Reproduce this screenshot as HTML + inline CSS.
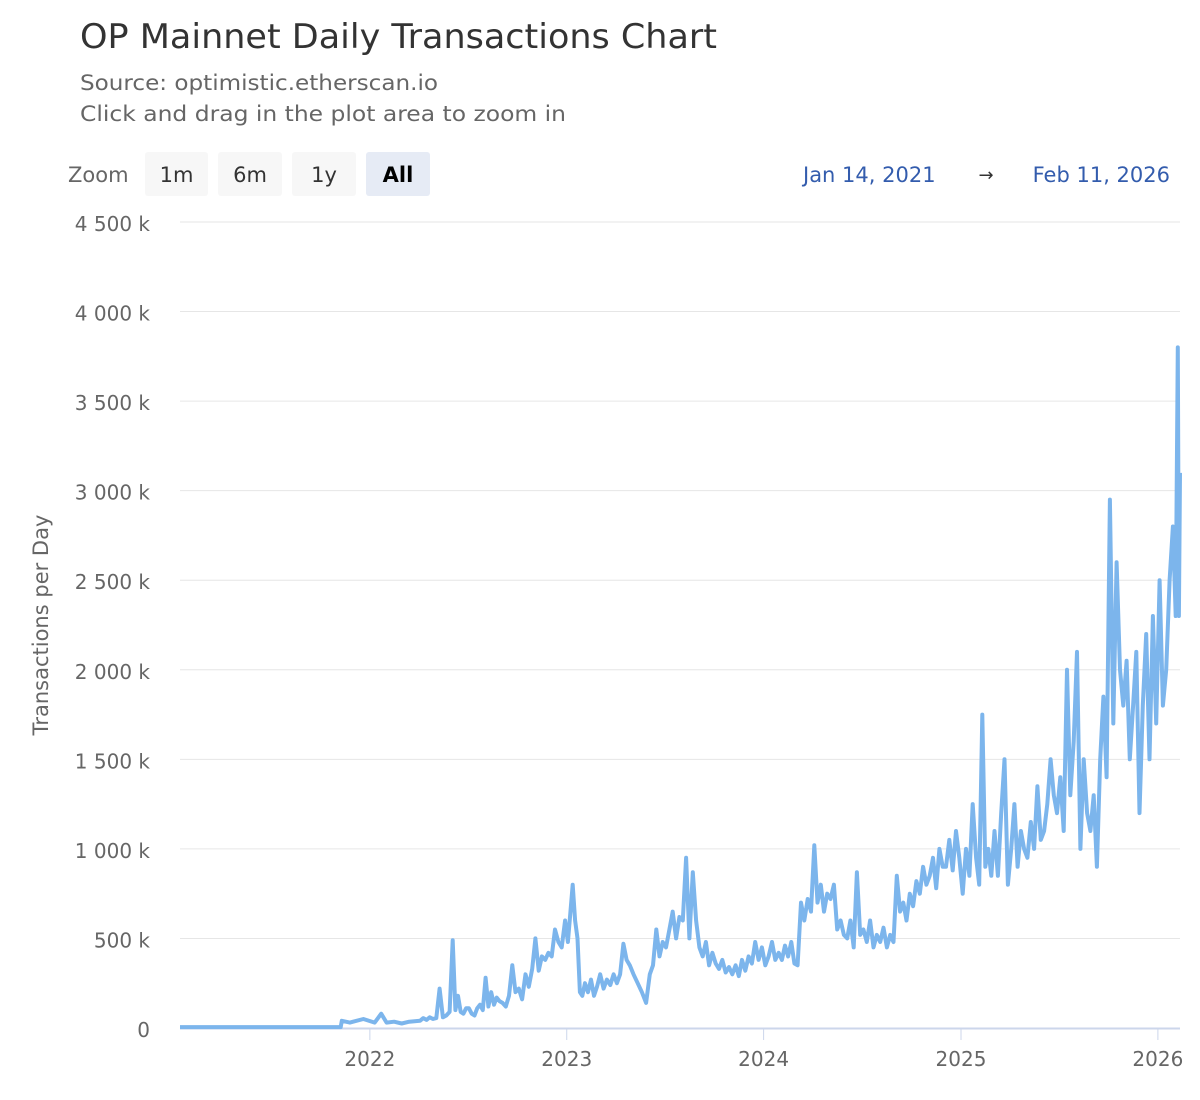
<!DOCTYPE html>
<html><head><meta charset="utf-8"><style>
html,body{margin:0;padding:0;background:#fff;}
svg{display:block;font-family:"DejaVu Sans","Liberation Sans",sans-serif;}
</style></head><body>
<svg id="chart" width="1200" height="1100" viewBox="0 0 1200 1100">
<text x="80" y="48" font-size="34" fill="#333" textLength="637" lengthAdjust="spacingAndGlyphs">OP Mainnet Daily Transactions Chart</text>
<text x="80" y="90" font-size="21" fill="#666" textLength="358" lengthAdjust="spacingAndGlyphs">Source: optimistic.etherscan.io</text>
<text x="80" y="121" font-size="21" fill="#666" textLength="486" lengthAdjust="spacingAndGlyphs">Click and drag in the plot area to zoom in</text>
<text x="68" y="182" font-size="21" fill="#666">Zoom</text>
<g><rect x="145" y="152" width="63" height="44" rx="3" fill="#f7f7f7"/><text x="176.5" y="182" font-size="21" fill="#333" text-anchor="middle">1m</text></g>
<g><rect x="218" y="152" width="64" height="44" rx="3" fill="#f7f7f7"/><text x="250" y="182" font-size="21" fill="#333" text-anchor="middle">6m</text></g>
<g><rect x="292" y="152" width="64" height="44" rx="3" fill="#f7f7f7"/><text x="324" y="182" font-size="21" fill="#333" text-anchor="middle">1y</text></g>
<g><rect x="366" y="152" width="64" height="44" rx="3" fill="#e6ebf5"/><text x="398" y="182" font-size="21" fill="#000" font-weight="bold" text-anchor="middle">All</text></g>
<text x="803" y="182" font-size="21" fill="#335cad">Jan 14, 2021</text>
<text x="986" y="181" font-size="18" fill="#333" text-anchor="middle">→</text>
<text x="1170" y="182" font-size="21" fill="#335cad" text-anchor="end">Feb 11, 2026</text>
<text transform="translate(48,625) rotate(-90)" font-size="21" fill="#666" text-anchor="middle">Transactions per Day</text>
<g id="grid"></g><g id="xaxis"></g><g id="series"></g>
</svg>
<script>
const yTicks=[0,500,1000,1500,2000,2500,3000,3500,4000,4500];
const yTickLabels=["0","500 k","1 000 k","1 500 k","2 000 k","2 500 k","3 000 k","3 500 k","4 000 k","4 500 k"];
const xTickYears=[2022,2023,2024,2025,2026];
// early period: explicit dates
const earlyDates=["2021-01-14","2021-11-08","2021-11-10","2021-11-25","2021-12-01","2021-12-20","2022-01-10","2022-01-22","2022-02-01","2022-02-15","2022-03-01","2022-03-15"];
const earlyValues=[5,5,40,30,35,50,30,80,30,35,25,35];
// monthly buckets: values spread evenly across each month
const months=["2022-04","2022-05","2022-06","2022-07","2022-08","2022-09","2022-10","2022-11","2022-12",
"2023-01","2023-02","2023-03","2023-04","2023-05","2023-06","2023-07","2023-08","2023-09","2023-10","2023-11","2023-12",
"2024-01","2024-02","2024-03","2024-04","2024-05","2024-06","2024-07","2024-08","2024-09","2024-10","2024-11","2024-12",
"2025-01","2025-02","2025-03","2025-04","2025-05","2025-06","2025-07","2025-08","2025-09","2025-10","2025-11","2025-12","2026-01"];
const monthValues=[
[40,55,45,60,50],[55,220,60,70,90],[490,100,180,90,80,110],[110,80,70,110,130,100],[280,120,200,130,170,150],[140,120,180,350,200],[220,160,300,230,330],[500,320,400,380,420],[400,550,480,450,600],
[480,640,800,600,500,200,180],[250,200,270,180,230],[300,220,270,240,300],[250,300,470,380,350],[300,250,200,140],[300,350,550,400,480],[450,550,650,500,620],[600,950,500,870,600],[450,400,480,350,420],[360,330,380,310,340],[300,350,290,380,320],[400,360,480,380,450],
[350,400,480,380,420],[380,460,400,480,360],[350,700,600,720,650],[1020,700,800,650,750],[720,800,550,600,520],[500,600,450,870,520],[550,480,600,450,520],[480,560,450,520,480],[850,650,700,600,750],[680,820,750,900,800],[850,950,780,1000,900],[900,1050,880,1100,950],
[750,1000,850,1250,950],[800,1750,900,1000,850],[1100,850,1200,1500,800],[1000,1250,900,1100,1000],[950,1150,1000,1350,1050],[1100,1250,1500,1300,1200],[1400,1100,2000,1300,1600],[2100,1000,1500,1200,1100],[1300,900,1500,1850,1400],[2950,1700,2600,2000,1800],[2050,1500,1800,2100,1200],[1800,2200,1500,2300,1700],
[2500,1800,2000,2500,2800]];
const lateDates=["2026-02-03","2026-02-07","2026-02-09","2026-02-11"];
const lateValues=[2300,3800,2300,3100];
const NS="http://www.w3.org/2000/svg";
const L=180,R=1180,T=222,B=1028,X0=Date.UTC(2021,0,14),X1=Date.UTC(2026,1,11);
function tOf(s){return Date.parse(s+"T00:00:00Z");}
function xs(t){return L+(t-X0)/(X1-X0)*(R-L);}
function ys(v){return B-v/4500*(B-T);}
function mk(tag,a,p){const e=document.createElementNS(NS,tag);for(const k in a)e.setAttribute(k,a[k]);p.appendChild(e);return e;}
const grid=document.getElementById('grid');
yTicks.forEach((v,i)=>{
 if(v>0){const g=mk('line',{x1:L,x2:R,y1:ys(v),y2:ys(v),stroke:'#e6e6e6','stroke-width':1},grid);
 
 }
 const t=mk('text',{x:150,y:ys(v)+9,'font-size':20,fill:'#666','text-anchor':'end'},grid);t.textContent=yTickLabels[i];
 
 
});
const xa=document.getElementById('xaxis');
const al=mk('line',{x1:L,x2:R,y1:B+0.5,y2:B+0.5,stroke:'#ccd6eb','stroke-width':2},xa);


xTickYears.forEach(y=>{
 const x=xs(Date.UTC(y,0,1));
 const tk=mk('line',{x1:x,x2:x,y1:B,y2:B+12,stroke:'#ccd6eb','stroke-width':1},xa);
 
 
 const t=mk('text',{x:x,y:1066,'font-size':20,fill:'#666','text-anchor':'middle'},xa);t.textContent=y;
 
 
});
const pts=[];
earlyDates.forEach((d,i)=>pts.push([tOf(d),earlyValues[i]]));
months.forEach((m,mi)=>{
 const [yy,mm]=m.split('-').map(Number);
 const a=Date.UTC(yy,mm-1,1),b=Date.UTC(yy,mm,1);
 const vals=monthValues[mi];
 vals.forEach((v,j)=>pts.push([a+(b-a)*(j+0.5)/vals.length,v]));
});
lateDates.forEach((d,i)=>pts.push([tOf(d),lateValues[i]]));
const s=document.getElementById('series');
const d=pts.map((p,i)=>(i?'L':'M')+xs(p[0]).toFixed(1)+' '+ys(p[1]).toFixed(1)).join(' ');
const p=mk('path',{d:d,fill:'none',stroke:'#7cb5ec','stroke-width':4,'stroke-linejoin':'round'},s);


</script>
</body></html>
